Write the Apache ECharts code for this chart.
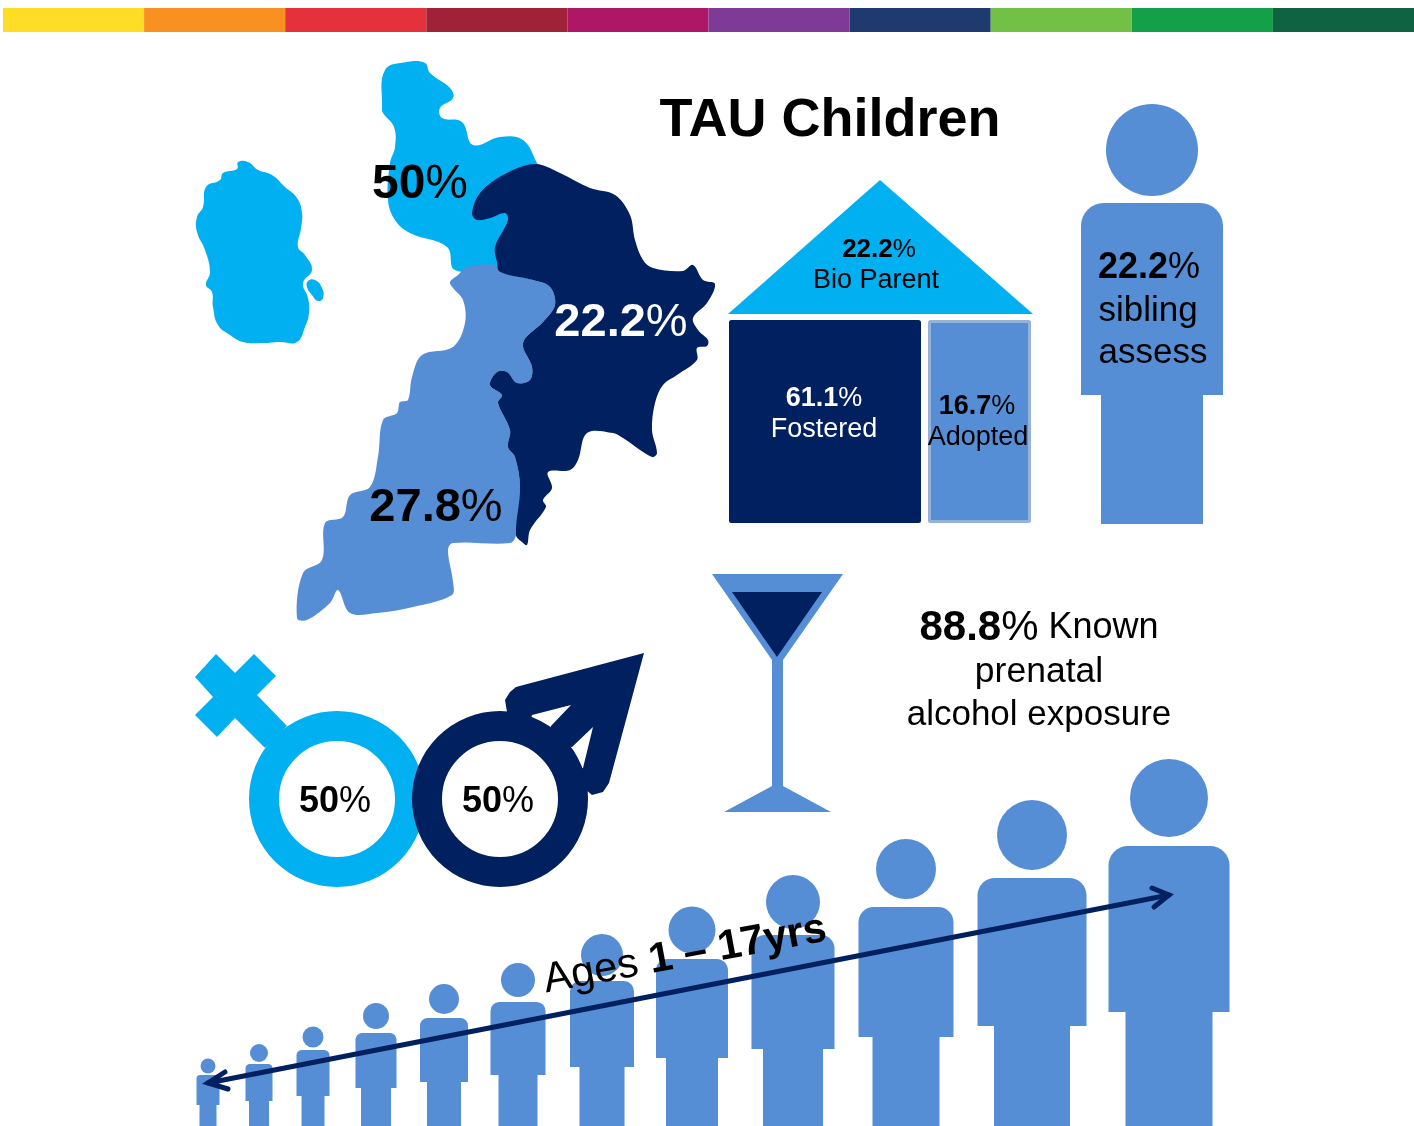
<!DOCTYPE html>
<html>
<head>
<meta charset="utf-8">
<title>TAU Children</title>
<style>html,body{margin:0;padding:0;background:#fff}#c{width:1414px;height:1126px}</style>
<script src="https://cdn.jsdelivr.net/npm/echarts@6/dist/echarts.min.js"></script>
</head>
<body>
<div id="c"></div>
<script>
// ---- values shown in the infographic ----
var titleText = 'TAU Children';
var mapShares = [50, 22.2, 27.8];
var homeShares = [22.2, 61.1, 16.7];
var homeNames = ['Bio Parent', 'Fostered', 'Adopted'];
var siblingShare = 22.2;
var siblingWords = ['sibling', 'assess'];
var genderShares = [50, 50];
var alcoholShare = 88.8;
var alcoholWords = ['Known', 'prenatal', 'alcohol exposure'];
var agesWords = ['Ages ', '1 \u2013 17yrs'];
var stripeColors = ['#FDDD26','#F99022','#E4313B','#A02238','#AE1765','#7F3A97','#1E3A6E','#72C045','#13A048','#0F6343'];
var LIGHT = '#00B0F0', MID = '#558ED5', DARK = '#002060';

// ---- figures: outline paths, in the page-sized scale ----
var islandWest = [[238,162],[248,162],[258,170],[272,175],[285,187],[297,198],[302,213],[301,228],[298,247],[305,255],[312,270],[303,283],[308,298],[309,313],[305,327],[297,342],[280,342],[263,343],[243,342],[230,335],[218,325],[213,307],[212,292],[206,285],[210,272],[205,250],[197,232],[197,217],[203,207],[206,187],[220,180],[223,173],[237,169]];
var islet = [[308,281],[315,280],[322,288],[323,298],[318,301],[312,295],[307,287]];
var regionNorth = [[385,70],[407,62],[425,63],[430,73],[450,88],[453,98],[440,108],[442,118],[462,122],[473,145],[500,137],[523,140],[537,163],[547,183],[513,250],[497,267],[455,270],[447,247],[410,233],[395,220],[388,200],[390,163],[395,147],[394,127],[383,113],[382,107]];
var regionSouth = [[450,282],[458,275],[467,267],[497,265],[500,272],[533,280],[550,287],[555,305],[543,322],[523,343],[532,367],[530,380],[517,383],[507,372],[497,372],[490,385],[502,395],[498,403],[510,430],[508,447],[515,457],[520,487],[516,535],[510,543],[453,543],[448,550],[453,582],[452,595],[413,607],[377,613],[350,613],[338,590],[330,603],[307,620],[297,618],[303,573],[322,560],[325,523],[343,517],[350,495],[370,487],[378,457],[383,420],[397,413],[400,402],[408,400],[412,377],[422,355],[453,347],[465,323],[463,300],[453,288]];
var regionEast = [[472,213],[480,193],[503,175],[535,164],[560,173],[590,188],[615,195],[630,215],[635,240],[643,260],[653,268],[683,271],[693,265],[703,280],[715,284],[707,303],[693,318],[698,330],[708,340],[707,346],[697,348],[697,360],[677,375],[663,385],[655,403],[652,430],[657,453],[652,457],[623,438],[613,433],[587,433],[578,460],[570,470],[548,472],[552,488],[543,500],[546,507],[530,530],[527,545],[522,542],[516,535],[520,487],[515,457],[508,447],[510,430],[498,403],[502,395],[490,385],[497,372],[507,372],[517,383],[530,380],[532,367],[523,343],[543,322],[555,305],[550,287],[533,280],[500,272],[497,262],[495,247],[508,220],[505,213],[490,218],[477,220]];
var roof = [[880,180],[728,314],[1033,314]];
var glassBowl = [[712,574],[843,574],[783,660],[783,786],[831,812],[724,812],[772,786],[772,660]];
var glassFill = [[732,592],[822,592],[777,657]];
var femaleMark = [[216,654],[235,673],[254,654],[276,676],[257,695],[287,726],[265,748],[235,718],[217,737],[195,715],[213,697],[195,677]];
var maleMark = [[644,653],[609,783],[603,792],[592,795],[585,789],[560,760],[530,730],[507,712],[505,700],[510,692],[516,687]];
var maleGapA = [[530,722],[532,715],[571,705],[551,726],[548,735]];
var maleGapB = [[564,746],[572,747],[593,727],[583,768],[576,770]];

// ---- rings [cx, cy, mid radius, band width, colour index] ----
var genderRings = [[337,799,73,30,LIGHT],[500,799,73,30,DARK]];

// ---- people: [centre, head centre, head radius, body width, body top, body bottom, leg width, foot] ----
var sibling = [1152,150,46,142,203,395,102,524];
var agePeople = [
  [208,1066,7.5,23,1075,1105,17,1126],
  [259,1053,9,27,1064,1101,20,1126],
  [313,1037,10.5,33,1050,1096,23,1126],
  [376,1016,13,41,1033,1088,30,1126],
  [444,999,15,48,1018,1082,34,1126],
  [518,980,17,55,1002,1075,39,1126],
  [602,955,21,64,981,1067,45,1126],
  [692,930,23.5,72,959,1058,52,1126],
  [793,902,27,83,935,1049,60,1126],
  [906,869,30,95,907,1037,67,1126],
  [1032,835,35,109,878,1026,76,1126],
  [1169,798,39,121,846,1012,87,1126]
];
var arrowPath = [[208,1083],[1169,895]];
var arrowHeadA = [[225,1072],[208,1083],[228,1089]];
var arrowHeadB = [[1152,888],[1169,895],[1154,907]];

var FONT = '"Liberation Sans", Arial, sans-serif';

function plain(text, size, color, weight) {
  return { text: text, fontFamily: FONT, fontSize: size, fontWeight: weight || 'normal', fill: color };
}
function pct(value, size, color) {
  return {
    text: '{b|' + value + '}{r|%}',
    rich: {
      b: { fontFamily: FONT, fontSize: size, fontWeight: 'bold', fill: color },
      r: { fontFamily: FONT, fontSize: size, fontWeight: 'normal', fill: color }
    }
  };
}
var textItems = [
  [830,121,plain(titleText,54,'#000','bold')],
  [420,185,pct(mapShares[0],48,'#000')],
  [621,323,pct(mapShares[1],47,'#fff')],
  [436,508,pct(mapShares[2],47,'#000')],
  [879,250,pct(homeShares[0],26,'#000')],
  [876,281,plain(homeNames[0],27,'#000')],
  [824,399,pct(homeShares[1],27,'#fff')],
  [824,430,plain(homeNames[1],27,'#fff')],
  [977,407,pct(homeShares[2],27,'#000')],
  [978,438,plain(homeNames[2],27,'#000')],
  [1149,268,pct(siblingShare,36,'#000')],
  [1148,311,plain(siblingWords[0],35,'#000')],
  [1153,353,plain(siblingWords[1],35,'#000')],
  [335,802,pct(genderShares[0],36,'#000')],
  [498,802,pct(genderShares[1],36,'#000')],
  [1039,628,{
    text: '{b|' + alcoholShare + '}{r|%}{k| ' + alcoholWords[0] + '}',
    rich: {
      b: { fontFamily: FONT, fontSize: 42, fontWeight: 'bold', fill: '#000' },
      r: { fontFamily: FONT, fontSize: 42, fill: '#000' },
      k: { fontFamily: FONT, fontSize: 36, fill: '#000' }
    }
  }],
  [1039,672,plain(alcoholWords[1],35.5,'#000')],
  [1039,715,plain(alcoholWords[2],35,'#000')],
  [685,955,{
    text: '{a|' + agesWords[0] + '}{b|' + agesWords[1] + '}',
    rich: {
      a: { fontFamily: FONT, fontSize: 42, fill: '#000' },
      b: { fontFamily: FONT, fontSize: 42, fontWeight: 'bold', fill: '#000' }
    }
  }, 10.5]
];

// ---- filled shapes [points, colour, smoothing] in drawing order ----
var blobs = [
  [islandWest, LIGHT, 0.45],
  [islet, LIGHT, 0.5],
  [regionNorth, LIGHT, 0.4],
  [regionSouth, MID, 0.35],
  [regionEast, DARK, 0.35],
  [roof, LIGHT, 0],
  [glassBowl, MID, 0],
  [glassFill, DARK, 0],
  [femaleMark, LIGHT, 0],
  [maleMark, DARK, 0],
  [maleGapA, '#fff', 0],
  [maleGapB, '#fff', 0]
];
// ---- house walls: [x0, y0, x1, y1, fill, stroke] ----
var walls = [
  [729,320,921,523,DARK,DARK],
  [928,320,1031,523,MID,'#95B3D7']
];

var chart = echarts.init(document.getElementById('c'), null, { renderer: 'canvas' });

function toPts(api, pts) { return pts.map(function (p) { return api.coord(p); }); }
function rowIdx(list) { return list.map(function (_, i) { return [i, 0]; }); }

function personEls(api, p) {
  var head = api.coord([p[0], p[1]]);
  var headR = api.size([p[2], 0])[0];
  var bodyTL = api.coord([p[0] - p[3] / 2, p[4]]);
  var bodyBR = api.coord([p[0] + p[3] / 2, p[5]]);
  var legTL = api.coord([p[0] - p[6] / 2, p[5] - 1]);
  var legBR = api.coord([p[0] + p[6] / 2, p[7]]);
  var corner = (bodyBR[0] - bodyTL[0]) * 0.16;
  var st = { fill: MID };
  return [
    { type: 'circle', shape: { cx: head[0], cy: head[1], r: headR }, style: st },
    { type: 'rect', shape: { x: bodyTL[0], y: bodyTL[1], width: bodyBR[0] - bodyTL[0], height: bodyBR[1] - bodyTL[1], r: [corner, corner, 0, 0] }, style: st },
    { type: 'rect', shape: { x: legTL[0], y: legTL[1], width: legBR[0] - legTL[0], height: legBR[1] - legTL[1] }, style: st }
  ];
}

var stripeSeries = stripeColors.map(function (col, i) {
  return {
    type: 'bar', stack: 'band', xAxisIndex: 1, yAxisIndex: 1,
    data: [1], barWidth: '100%', silent: true,
    itemStyle: { color: col }, animation: false
  };
});

var option = {
  animation: false,
  backgroundColor: '#fff',
  grid: [
    { left: 0, top: 0, width: 1414, height: 1126, containLabel: false },
    { left: 3, top: 8, width: 1411, height: 24, containLabel: false }
  ],
  xAxis: [
    { type: 'value', min: 0, max: 1414, show: false, gridIndex: 0 },
    { type: 'value', min: 0, max: stripeColors.length, show: false, gridIndex: 1 }
  ],
  yAxis: [
    { type: 'value', min: 0, max: 1126, inverse: true, show: false, gridIndex: 0 },
    { type: 'category', data: ['band'], show: false, gridIndex: 1 }
  ],
  tooltip: { show: false },
  series: stripeSeries.concat([
    {
      type: 'custom', silent: true, clip: false, z: 2,
      data: rowIdx(blobs),
      renderItem: function (params, api) {
        var b = blobs[params.dataIndex];
        return { type: 'polygon', shape: { points: toPts(api, b[0]), smooth: b[2] }, style: { fill: b[1] } };
      }
    },
    {
      type: 'custom', silent: true, clip: false, z: 2,
      data: rowIdx(walls),
      renderItem: function (params, api) {
        var w = walls[params.dataIndex];
        var a = api.coord([w[0], w[1]]), c = api.coord([w[2], w[3]]);
        return { type: 'rect', shape: { x: a[0] + 1.5, y: a[1] + 1.5, width: c[0] - a[0] - 3, height: c[1] - a[1] - 3, r: 1 },
          style: { fill: w[4], stroke: w[5], lineWidth: 3 } };
      }
    },
    {
      type: 'custom', silent: true, clip: false, z: 3,
      data: rowIdx(genderRings),
      renderItem: function (params, api) {
        var r = genderRings[params.dataIndex];
        var c = api.coord([r[0], r[1]]);
        return { type: 'circle', shape: { cx: c[0], cy: c[1], r: api.size([r[2], 0])[0] },
          style: { fill: '#fff', stroke: r[4], lineWidth: r[3] } };
      }
    },
    {
      type: 'custom', silent: true, clip: false, z: 2,
      data: rowIdx(agePeople.concat([sibling])),
      renderItem: function (params, api) {
        var list = agePeople.concat([sibling]);
        return { type: 'group', children: personEls(api, list[params.dataIndex]) };
      }
    },
    {
      type: 'custom', silent: true, clip: false, z: 4,
      data: rowIdx([arrowPath, arrowHeadA, arrowHeadB]),
      renderItem: function (params, api) {
        var path = [arrowPath, arrowHeadA, arrowHeadB][params.dataIndex];
        return { type: 'polyline', shape: { points: toPts(api, path) },
          style: { fill: null, stroke: DARK, lineWidth: 5, lineCap: 'round', lineJoin: 'miter' } };
      }
    },
    {
      type: 'custom', silent: true, clip: false, z: 5,
      data: rowIdx(textItems),
      renderItem: function (params, api) {
        var t = textItems[params.dataIndex];
        var c = api.coord([t[0], t[1]]);
        var style = Object.assign({ align: 'center', verticalAlign: 'middle', x: 0, y: 0 }, t[2]);
        return { type: 'text', x: c[0], y: c[1], rotation: (t[3] || 0) * Math.PI / 180, style: style };
      }
    }
  ])
};
chart.setOption(option);
</script>
</body>
</html>
